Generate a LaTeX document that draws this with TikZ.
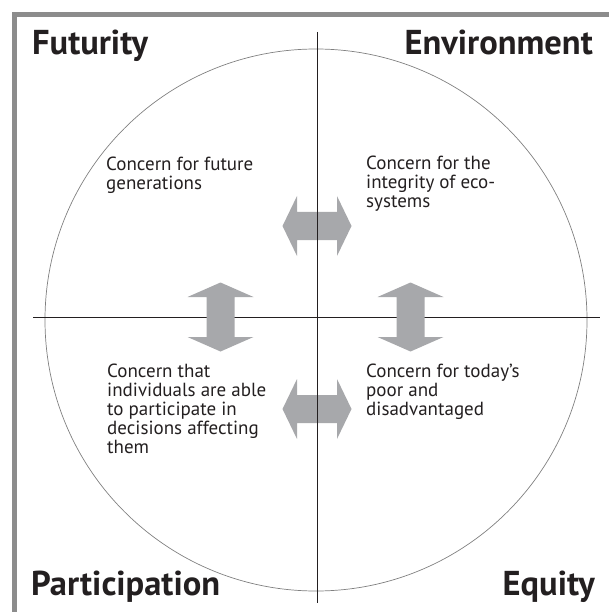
\documentclass[tikz,border=0pt]{standalone}
\usepackage{fontspec}
\setmainfont{PT Sans}

\definecolor{framegray}{RGB}{140,140,140}
\definecolor{arrowgray}{RGB}{167,168,171}
\definecolor{inkdark}{RGB}{35,31,32}

\tikzset{
  heading/.style={font=\bfseries\fontsize{34.5}{36}\selectfont, text=inkdark, inner sep=0pt},
  concern/.style={font=\fontsize{19}{19}\selectfont, text=inkdark, align=left, inner sep=0pt, anchor=north west},
  pics/twoway/.style={code={
    \fill[arrowgray] (-34.5,0) -- (-20,#1) -- (-20,14) -- (20,14) -- (20,#1) -- (34.5,0)
      -- (20,-#1) -- (20,-14) -- (-20,-14) -- (-20,-#1) -- cycle;
  }},
}

\begin{document}
\begin{tikzpicture}[x=1pt, y=-1pt]
        \useasboundingbox (0,0) rectangle (609,612);

        % Frame
        \fill[framegray] (12,12.5) rectangle (609,17);
        \fill[framegray] (12,12.5) rectangle (17,612);

        % Circle and cross
        \coordinate (centre) at (316,320);
        \draw[gray, line width=0.7pt] (centre) circle (271);
        \coordinate (west) at (33,317);
        \coordinate (east) at (600,317);
        \coordinate (north) at (317,32);
        \coordinate (south) at (317,603);
        \draw[inkdark, line width=0.9pt] (west) -- (east);

        % Two-way arrows
        \pic[rotate=90] (arrW) at (220.5,317) {twoway=33};
        \pic[rotate=90] (arrE) at (410.5,317) {twoway=33};
        \pic (arrN) at (317,226) {twoway=30};
        \pic (arrS) at (317,409) {twoway=30};

        \draw[inkdark, line width=0.9pt] (north) -- (south);

        % Corner headings
        \node[heading, anchor=base west] (futurity) at (32,55) {Futurity};
        \node[heading, anchor=base east] (environment) at (593,55) {Environment};
        \node[heading, anchor=base west] (participation) at (31,595) {Participation};
        \node[heading, anchor=base east] (equity) at (595,595) {Equity};

        % Quadrant texts
        \node[concern] (future) at (106,157) {Concern for future\\generations};
        \node[concern] (ecosystems) at (366,156) {Concern for the\\integrity of eco-\\systems};
        \node[concern] (decisions) at (107,364) {Concern that\\individuals are able\\to participate in\\decisions affecting\\them};
        \node[concern] (today) at (366,363.5) {Concern for today's\\poor and\\disadvantaged};
\end{tikzpicture}
\end{document}
